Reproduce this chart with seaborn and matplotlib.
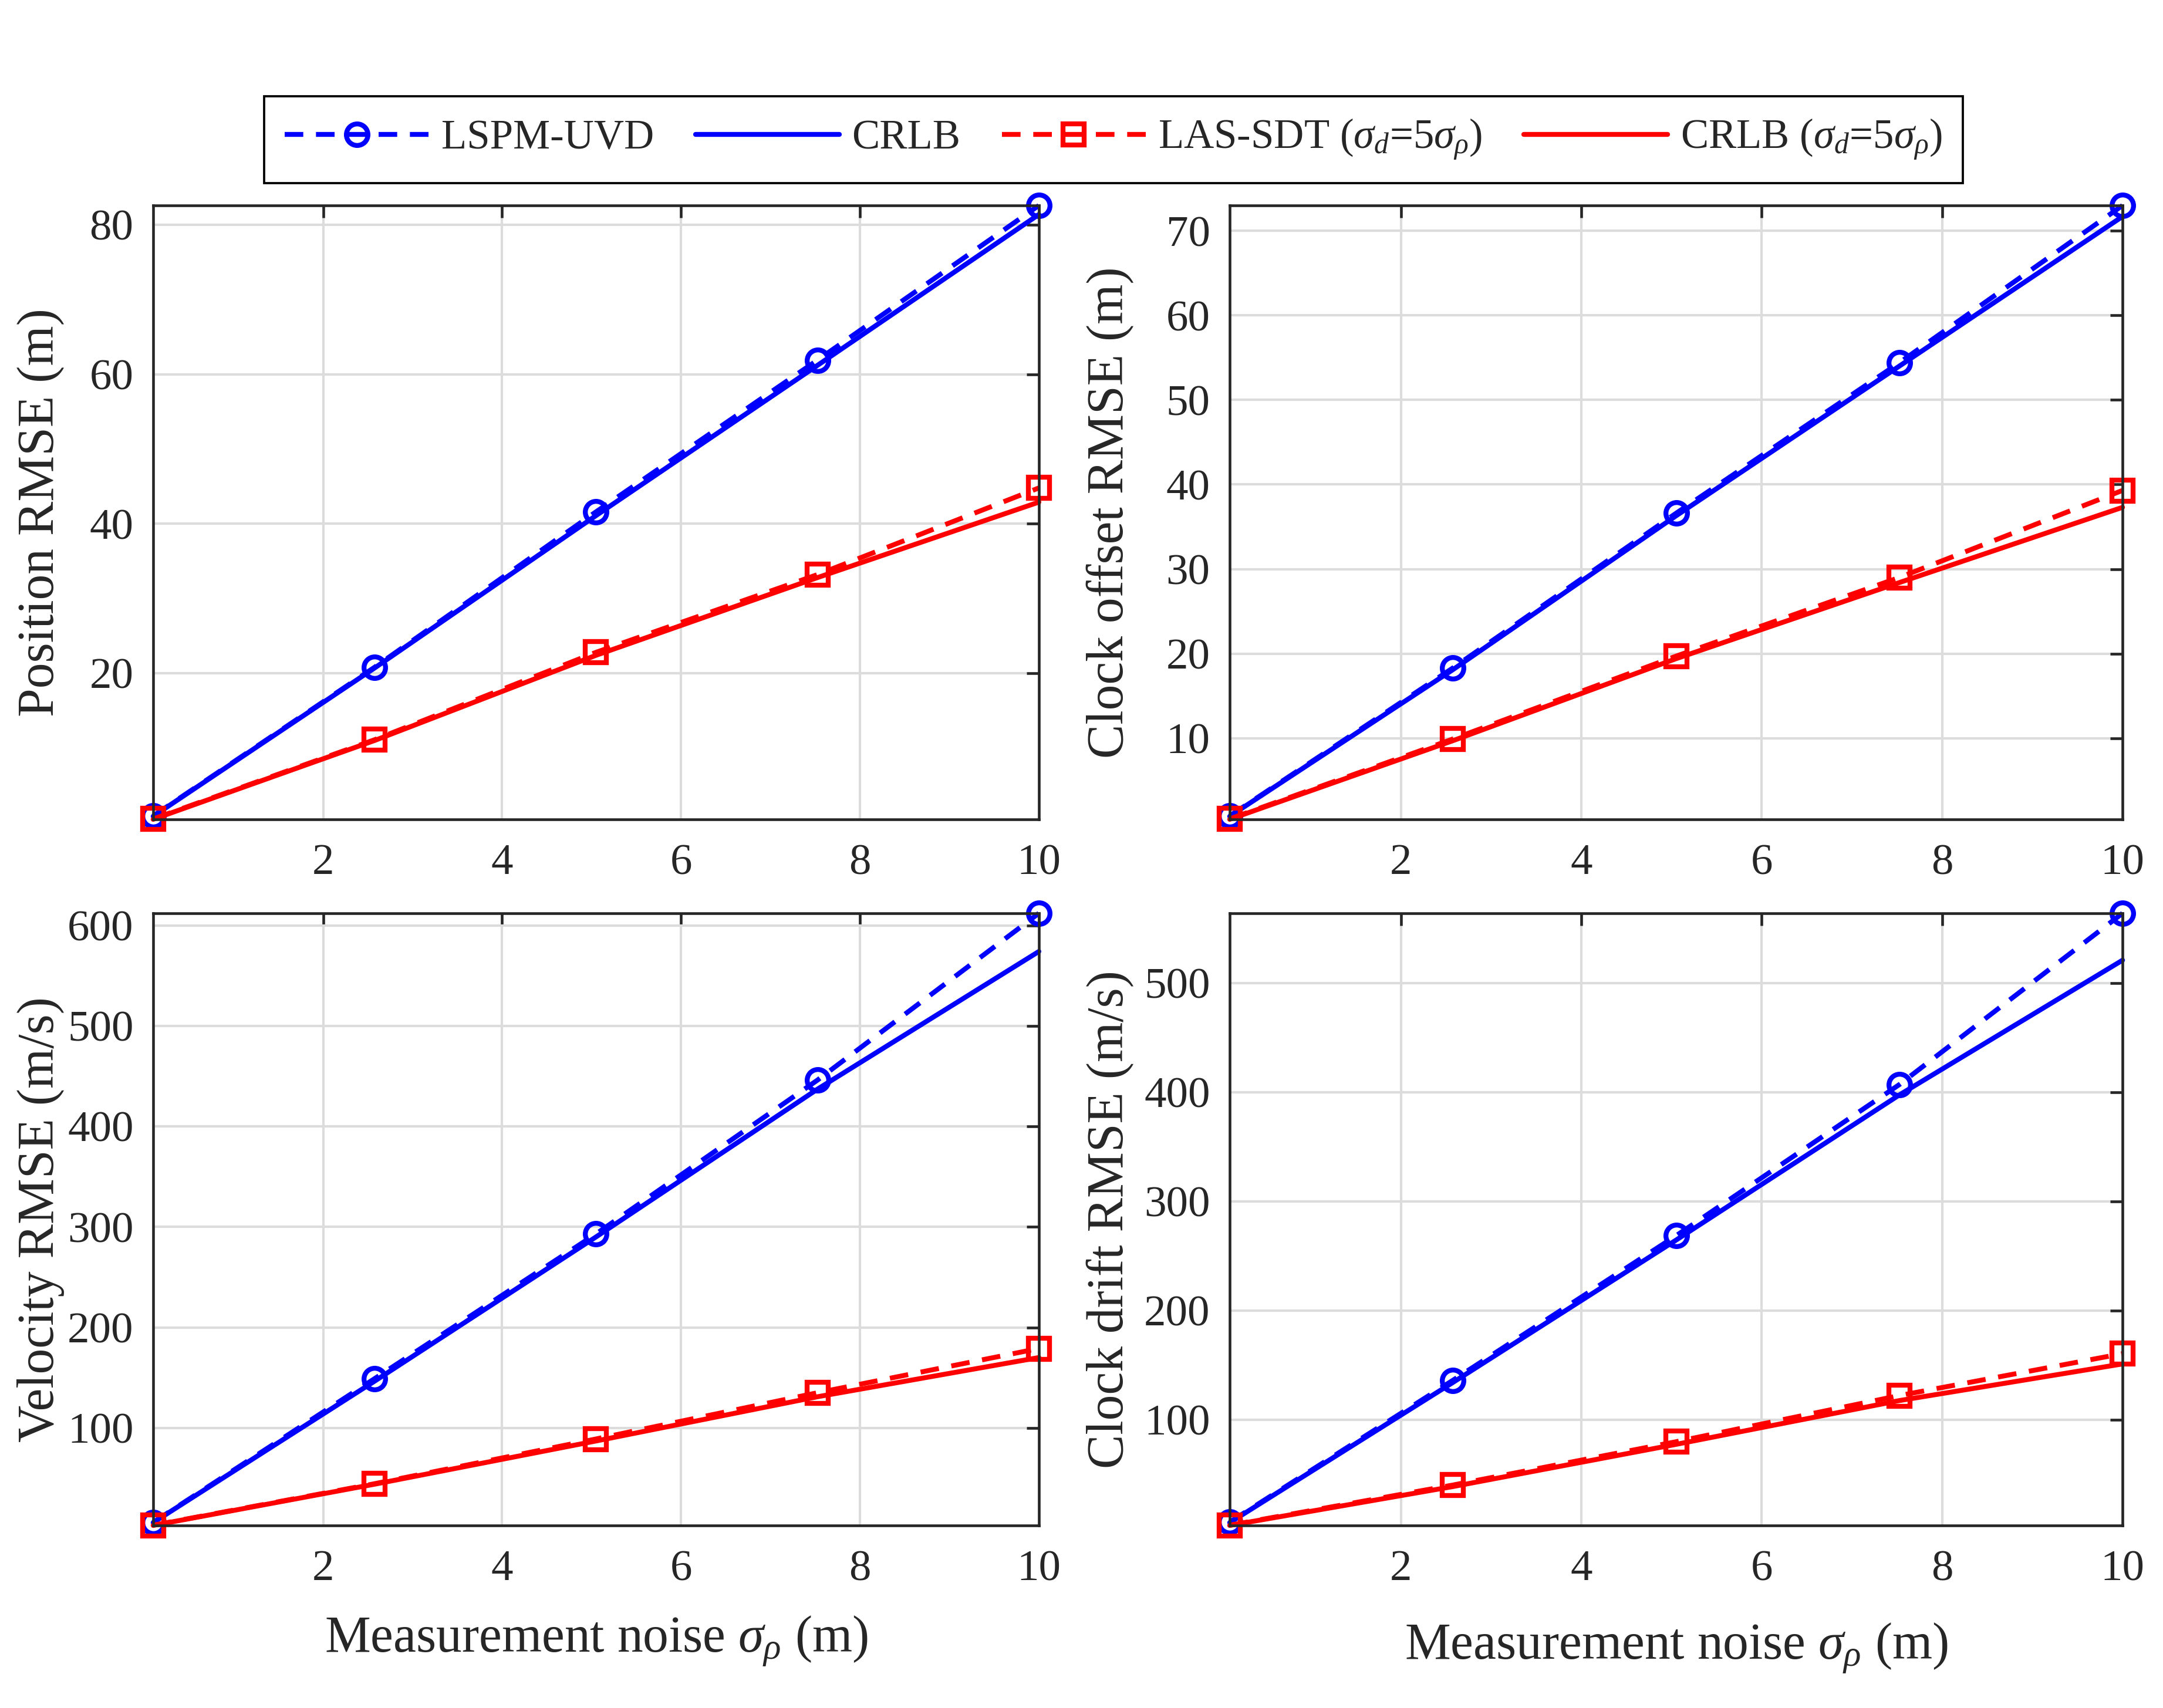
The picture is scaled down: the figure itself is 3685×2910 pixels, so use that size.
import numpy as np
import pandas as pd
import matplotlib
matplotlib.use("Agg")
import matplotlib.pyplot as plt
import seaborn as sns

# ---------------- data ----------------
sigma_rho = [0.1, 2.575, 5.05, 7.525, 10.0]

pos_lspm = [0.9, 20.8, 41.6, 61.9, 82.6]
pos_crlb = [0.85, 20.7, 41.1, 61.2, 81.4]
pos_las = [0.5, 11.1, 22.8, 33.2, 44.8]
pos_crlb5 = [0.45, 11.0, 22.4, 32.8, 42.9]

clk_lspm = [0.8, 18.3, 36.6, 54.4, 73.0]
clk_crlb = [0.75, 18.1, 36.3, 54.0, 71.7]
clk_las = [0.45, 9.9, 19.7, 29.0, 39.3]
clk_crlb5 = [0.4, 9.7, 19.4, 28.4, 37.3]

vel_lspm = [6.0, 149.0, 293.0, 446.0, 612.0]
vel_crlb = [5.8, 146.5, 290.0, 437.0, 574.0]
vel_las = [3.2, 44.5, 89.0, 135.0, 179.0]
vel_crlb5 = [3.0, 44.0, 87.0, 131.0, 170.0]

drf_lspm = [6.0, 136.0, 268.5, 407.0, 564.0]
drf_crlb = [5.5, 134.0, 264.5, 397.5, 521.0]
drf_las = [3.2, 40.0, 79.7, 122.0, 160.4]
drf_crlb5 = [3.0, 38.6, 77.3, 117.4, 151.0]

series_labels = ["LSPM-UVD", "CRLB",
                 r"LAS-SDT ($\sigma_d$=5$\sigma_\rho$)",
                 r"CRLB ($\sigma_d$=5$\sigma_\rho$)"]

ylabels = ["Position RMSE (m)", "Clock offset RMSE (m)",
           "Velocity RMSE (m/s)", "Clock drift RMSE (m/s)"]
yticks_list = [[20, 40, 60, 80],
               [10, 20, 30, 40, 50, 60, 70],
               [100, 200, 300, 400, 500, 600],
               [100, 200, 300, 400, 500]]
xticks = [2, 4, 6, 8, 10]
xlabel = r"Measurement noise $\sigma_\rho$ (m)"

panels = [
    (pos_lspm, pos_crlb, pos_las, pos_crlb5),
    (clk_lspm, clk_crlb, clk_las, clk_crlb5),
    (vel_lspm, vel_crlb, vel_las, vel_crlb5),
    (drf_lspm, drf_crlb, drf_las, drf_crlb5),
]

# ---------------- style ----------------
sns.set_theme(style="white")
dark = "#262626"
plt.rcParams.update({
    "font.family": ["Liberation Serif", "DejaVu Serif"],
    "mathtext.fontset": "custom",
    "mathtext.rm": "Liberation Serif",
    "mathtext.it": "Liberation Serif:italic",
    "mathtext.bf": "Liberation Serif:bold",
    "axes.edgecolor": dark,
    "axes.linewidth": 1.1,
    "xtick.color": dark,
    "ytick.color": dark,
    "text.color": dark,
    "axes.labelcolor": dark,
})

fig = plt.figure(figsize=(3685 / 300, 2910 / 300), dpi=300)

cols = [(0.0708, 0.4803), (0.5685, 0.9813)]
rows = [(0.5203, 0.8797), (0.1069, 0.4653)]

styles = [
    dict(color="#0000ff", linestyle=(0, (3.8, 2.6)), marker="o"),
    dict(color="#0000ff", linestyle="-", marker=None),
    dict(color="#ff0000", linestyle=(0, (3.8, 2.6)), marker="s"),
    dict(color="#ff0000", linestyle="-", marker=None),
]

axes = []
for i, data in enumerate(panels):
    r, c = divmod(i, 2)
    x0, x1 = cols[c]
    y0, y1 = rows[r]
    ax = fig.add_axes([x0, y0, x1 - x0, y1 - y0])
    axes.append(ax)
    ax.set_axisbelow(True)
    ax.grid(True, color="#dcdcdc", linewidth=1.0)
    for ys, st, lab in zip(data, styles, series_labels):
        kw = dict(color=st["color"], linestyle=st["linestyle"], linewidth=2.0)
        if st["marker"]:
            kw.update(marker=st["marker"], markersize=8.8, markerfacecolor="none",
                      markeredgecolor=st["color"], markeredgewidth=2.0)
        sns.lineplot(x=sigma_rho, y=ys, ax=ax, label=lab, clip_on=False, **kw)
    if ax.get_legend() is not None:
        ax.get_legend().remove()
    ymin = min(min(s) for s in data)
    ymax = max(max(s) for s in data)
    ax.set_xlim(min(sigma_rho), max(sigma_rho))
    ax.set_ylim(ymin, ymax)
    ax.set_xticks(xticks)
    ax.set_yticks(yticks_list[i])
    ax.tick_params(axis="both", which="both", direction="in", length=5,
                   width=1.1, top=True, right=True, labelsize=18)
    ax.tick_params(axis="x", pad=10)
    ax.tick_params(axis="y", pad=8)
    for sp in ax.spines.values():
        sp.set_visible(True)
        sp.set_color(dark)
        sp.set_linewidth(1.1)
    ax.set_ylabel(ylabels[i], fontsize=21)
    ax.yaxis.set_label_coords(-0.100 if c == 0 else -0.107, 0.5)
    if r == 1:
        ax.set_xlabel(xlabel, fontsize=21, labelpad=10 if c == 0 else 13)

handles, labels = axes[0].get_legend_handles_labels()
leg = fig.legend(handles, labels, loc="center", bbox_to_anchor=(0.5148, 0.9182),
                 ncol=4, fontsize=17, frameon=True, fancybox=False,
                 edgecolor="black", framealpha=1, handlelength=3.46,
                 handletextpad=0.3, columnspacing=1.0, borderpad=0.5)
leg.get_frame().set_linewidth(0.9)

fig.savefig("out.png", dpi=300)
